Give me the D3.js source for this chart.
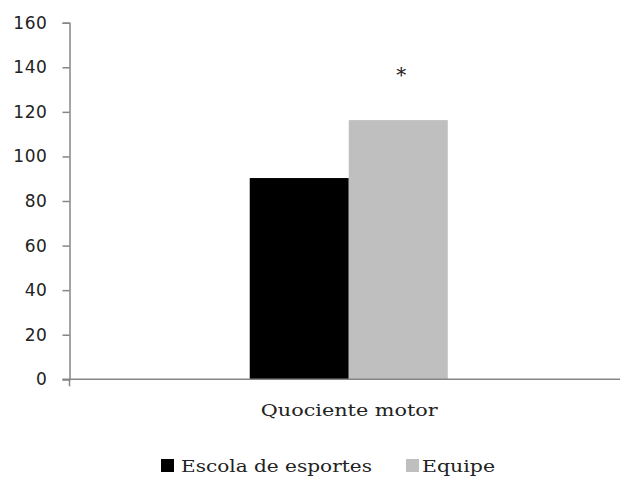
<!DOCTYPE html>
<html><head><meta charset="utf-8">
<script src="https://cdn.jsdelivr.net/npm/d3@7"></script>
<style>body{margin:0;background:#fff;}svg{display:block;}</style>
</head><body>
<svg id="c" width="620" height="477"></svg>
<script>
const categories = ["Quociente motor"];
const seriesNames = ["Escola de esportes", "Equipe"];
const seriesColors = ["#000000", "#bfbfbf"];
const escolaValues = [90.3];
const equipeValues = [116.3];
const yTicks = [0, 20, 40, 60, 80, 100, 120, 140, 160];
const annotation = "*";

(function () {
const svg = d3.select("#c");
const mLeft = 69.5, mRight = 628, mTop = 22.7, mBottom = 379.3;
const y = d3.scaleLinear().domain([0, 160]).range([mBottom, mTop]);
const x0 = d3.scaleBand().domain(categories).range([mLeft, mRight]).paddingInner(0).paddingOuter(0.91);
const x1 = d3.scaleBand().domain(seriesNames).range([0, x0.bandwidth()]);
const serif = "DejaVu Serif";

const series = [escolaValues, equipeValues];
categories.forEach((c, i) => {
  seriesNames.forEach((s, j) => {
    svg.append("rect")
      .attr("x", x0(c) + x1(s))
      .attr("y", y(series[j][i]))
      .attr("width", x1.bandwidth())
      .attr("height", y(0) - y(series[j][i]))
      .attr("fill", seriesColors[j]);
  });
  svg.append("text")
    .attr("x", x0(c) + x1(seriesNames[1]) + x1.bandwidth() / 2 + 3)
    .attr("y", y(equipeValues[i]) - 38)
    .attr("text-anchor", "middle")
    .attr("font-family", serif)
    .attr("font-size", 20)
    .attr("fill", "#222")
    .text(annotation);
});

// y axis
const yAxis = d3.axisLeft(y).tickValues(yTicks).tickSize(7).tickSizeOuter(7);
const gy = svg.append("g").attr("transform", `translate(${mLeft},0)`).call(yAxis);
gy.select(".domain").attr("stroke", "#868686").attr("stroke-width", 1.5);
gy.selectAll(".tick line").attr("stroke", "#868686").attr("stroke-width", 1.5);
gy.selectAll(".tick text").attr("x", -22).attr("font-family", "DejaVu Sans").attr("font-size", 17)
  .attr("letter-spacing", 0.6).attr("fill", "#222");

// x axis
svg.append("line").attr("x1", mLeft - 7).attr("x2", 620).attr("y1", y(0)).attr("y2", y(0))
  .attr("stroke", "#868686").attr("stroke-width", 1.5);
svg.append("line").attr("x1", mLeft).attr("x2", mLeft).attr("y1", y(0)).attr("y2", y(0) + 7)
  .attr("stroke", "#868686").attr("stroke-width", 1.5);
categories.forEach(c => {
  svg.append("text")
    .attr("x", x0(c) + x0.bandwidth() / 2 - 88)
    .attr("y", 416)
    .attr("font-family", serif)
    .attr("font-size", 17)
    .attr("textLength", 177)
    .attr("lengthAdjust", "spacingAndGlyphs")
    .attr("fill", "#222")
    .text(c);
});

// legend
const legendX = [161, 406];
const legendW = [191, 73];
seriesNames.forEach((s, j) => {
  svg.append("rect").attr("x", legendX[j]).attr("y", 459).attr("width", 13).attr("height", 13).attr("fill", seriesColors[j]);
  svg.append("text").attr("x", legendX[j] + 20 - (j ? 4 : 0)).attr("y", 472)
    .attr("font-family", serif).attr("font-size", 17)
    .attr("textLength", legendW[j]).attr("lengthAdjust", "spacingAndGlyphs")
    .attr("fill", "#222").text(s);
});
})();
</script>
</body></html>
